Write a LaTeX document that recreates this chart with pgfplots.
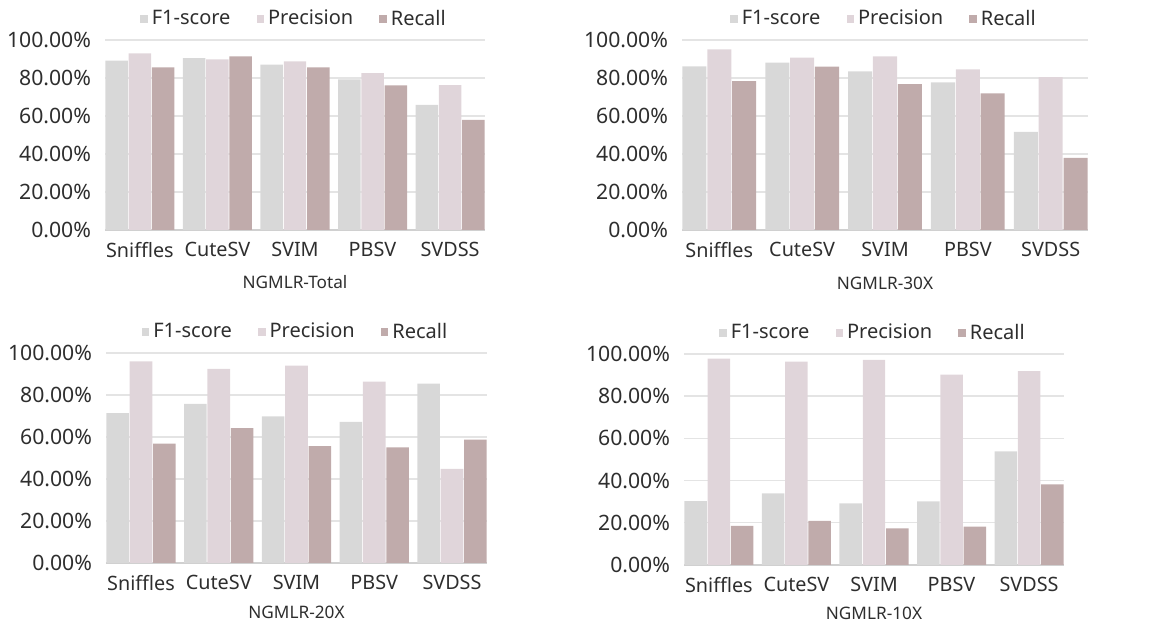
\documentclass[border=0pt]{standalone}
\usepackage{fontspec}
\setmainfont{Noto Sans}
\usepackage{pgfplots}
\pgfplotsset{compat=1.18}
\definecolor{cF}{HTML}{D8D8D8}
\definecolor{cP}{HTML}{E0D5DA}
\definecolor{cR}{HTML}{C0ABAB}
\definecolor{gridc}{HTML}{E4E4E4}
\definecolor{basec}{HTML}{D0D0D0}
\definecolor{txt}{HTML}{2E2E2E}
\pgfplotsset{panel/.style={
  scale only axis, xmin=-0.45, xmax=4.45, ymin=0, ymax=100,
  axis line style={draw=none},
  ytick={0,20,...,100},
  yticklabels={0.00\%,20.00\%,40.00\%,60.00\%,80.00\%,100.00\%},
  xtick={0,...,4}, xticklabels={Sniffles,CuteSV,SVIM,PBSV,SVDSS},
  major tick length=0pt,
  ymajorgrids, grid style={draw=gridc, line width=0.7pt},
  extra y ticks={0}, extra y tick labels={},
  extra y tick style={grid style={draw=basec, line width=0.8pt}},
  x tick label style={font=\fontsize{9.9}{11}\selectfont, text=txt, yshift=-2.5pt},
  y tick label style={font=\fontsize{10.6}{12}\selectfont, text=txt, xshift=-3.5pt},
  xlabel style={font=\fontsize{8.6}{10}\selectfont, text=txt, at={(axis description cs:0.5,0)}, anchor=center},
  legend style={at={(axis description cs:0.5,1)}, anchor=center, yshift=10.5pt, draw=none, fill=none,
    legend columns=-1, font=\fontsize{10}{11}\selectfont, text=txt,
    /tikz/every even column/.append style={column sep=11pt}},
  legend image code/.code={\fill[##1, draw=none] (0pt,-1.9pt) rectangle (3.8pt,1.9pt);},
  bF/.style={ybar, bar width=0.29, bar shift=-0.3, fill=cF, draw=none},
  bP/.style={ybar, bar width=0.29, bar shift=0, fill=cP, draw=none},
  bR/.style={ybar, bar width=0.29, bar shift=0.3, fill=cR, draw=none},
}}
\begin{document}
\begin{tikzpicture}
\useasboundingbox (0,0) rectangle (576pt,313.5pt);
% NGMLR-Total
\begin{axis}[panel, at={(52.5pt,198.5pt)}, anchor=south west, width=190pt, height=95pt,
  xlabel={NGMLR-Total}, xlabel style={yshift=-26pt}]
\addplot[bF] coordinates {(0,89.1) (1,90.5) (2,87.0) (3,79.3) (4,65.8)};
\addplot[bP] coordinates {(0,93.0) (1,89.8) (2,88.8) (3,82.6) (4,76.3)};
\addplot[bR] coordinates {(0,85.6) (1,91.4) (2,85.6) (3,76.1) (4,57.9)};
\legend{F1-score,Precision,Recall}
\end{axis}
% NGMLR-30X
\begin{axis}[panel, at={(341pt,198.5pt)}, anchor=south west, width=203pt, height=95pt,
  xlabel={NGMLR-30X}, xlabel style={yshift=-26.5pt}]
\addplot[bF] coordinates {(0,86.1) (1,88.1) (2,83.5) (3,77.7) (4,51.6)};
\addplot[bP] coordinates {(0,95.1) (1,90.7) (2,91.4) (3,84.6) (4,80.5)};
\addplot[bR] coordinates {(0,78.4) (1,86.0) (2,76.8) (3,71.9) (4,37.9)};
\legend{F1-score,Precision,Recall}
\end{axis}
% NGMLR-20X
\begin{axis}[panel, at={(53pt,32pt)}, anchor=south west, width=190.5pt, height=105pt,
  xlabel={NGMLR-20X}, xlabel style={yshift=-24.5pt}]
\addplot[bF] coordinates {(0,71.4) (1,75.8) (2,69.8) (3,67.2) (4,85.4)};
\addplot[bP] coordinates {(0,96.0) (1,92.4) (2,94.0) (3,86.4) (4,44.8)};
\addplot[bR] coordinates {(0,56.8) (1,64.2) (2,55.7) (3,55.1) (4,58.7)};
\legend{F1-score,Precision,Recall}
\end{axis}
% NGMLR-10X
\begin{axis}[panel, at={(342pt,31pt)}, anchor=south west, width=190pt, height=105.5pt,
  xlabel={NGMLR-10X}, xlabel style={yshift=-24pt}]
\addplot[bF] coordinates {(0,30.3) (1,34.0) (2,29.2) (3,30.2) (4,53.9)};
\addplot[bP] coordinates {(0,97.8) (1,96.4) (2,97.2) (3,90.2) (4,91.9)};
\addplot[bR] coordinates {(0,18.5) (1,20.9) (2,17.4) (3,18.2) (4,38.2)};
\legend{F1-score,Precision,Recall}
\end{axis}
\end{tikzpicture}
\end{document}
